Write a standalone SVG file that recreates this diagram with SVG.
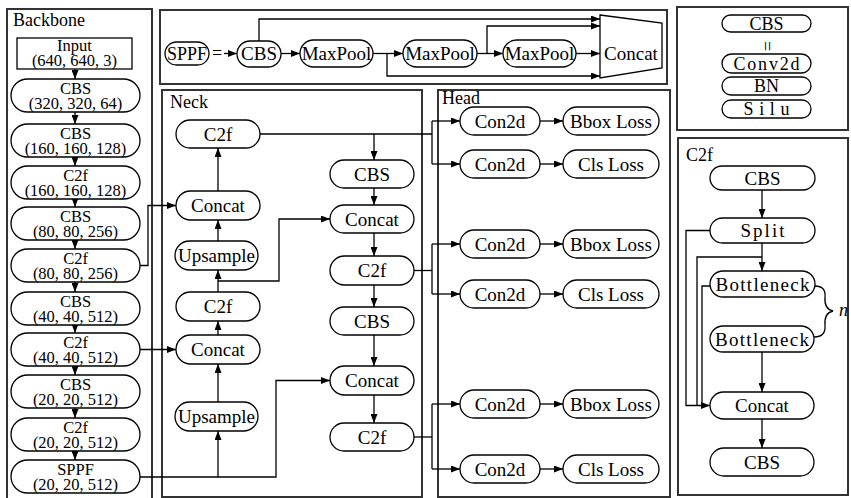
<svg xmlns="http://www.w3.org/2000/svg" width="851" height="498" viewBox="0 0 851 498" font-family="Liberation Serif, Times New Roman, serif">
<style>
.panel{fill:none;stroke:#333;stroke-width:2}
.box{fill:#fff;stroke:#000;stroke-width:1.3}
.ln{fill:none;stroke:#000;stroke-width:1.3}
.ar{fill:none;stroke:#000;stroke-width:1.3;marker-end:url(#ah)}
text{font-family:'Liberation Serif','Times New Roman',Times,serif;fill:#000}
.t{font-size:19px;text-anchor:middle}
.b{font-size:16.5px;text-anchor:middle}
.g{font-size:18px;text-anchor:middle}
.lab{font-size:18px}
</style>
<defs>
<marker id="ah" viewBox="0 0 9 7" refX="9" refY="3.5" markerWidth="9" markerHeight="7" markerUnits="userSpaceOnUse" orient="auto">
<path d="M0,0 L9,3.5 L0,7 z" fill="#000"/>
</marker>
</defs>
<rect width="851" height="498" fill="#fff"/>

<g id="panels">
<rect class="panel" x="7" y="9" width="145" height="495"/>
<rect class="panel" x="160" y="10" width="507" height="74"/>
<rect class="panel" x="677" y="7" width="171" height="123"/>
<rect class="panel" x="162" y="90" width="260" height="407"/>
<rect class="panel" x="438" y="90" width="232" height="407"/>
<rect class="panel" x="678" y="138" width="170" height="357"/>
<text class="lab" x="13" y="26" font-size="19">Backbone</text>
<text class="lab" x="170" y="108">Neck</text>
<text class="lab" x="442" y="104">Head</text>
<text class="lab" x="686" y="161">C2f</text>
</g>

<g id="connectors">
<path class="ar" d="M75,69 V79"/>
<path class="ar" d="M75,112 V124"/>
<path class="ar" d="M75,157 V166"/>
<path class="ar" d="M75,199 V207"/>
<path class="ar" d="M75,240 V249"/>
<path class="ar" d="M75,282 V292"/>
<path class="ar" d="M75,325 V333"/>
<path class="ar" d="M75,366 V375"/>
<path class="ar" d="M75,408 V418"/>
<path class="ar" d="M75,451 V460"/>
<path class="ar" d="M224,53.5 H237"/>
<path class="ar" d="M281,53.5 H300"/>
<path class="ar" d="M373,53.5 H403"/>
<path class="ar" d="M387,53.5 V76 H600"/>
<path class="ar" d="M477,53.5 H503"/>
<path class="ar" d="M487,53.5 V26 H600"/>
<path class="ar" d="M576,53.5 H600"/>
<path class="ar" d="M259,41 V19 H600"/>
<path class="ar" d="M140,265.5 H148 V205.5 H176"/>
<path class="ar" d="M140,349.5 H176"/>
<path class="ar" d="M140,477 H276 V380.5 H330"/>
<path class="ar" d="M218,477 V431"/>
<path class="ar" d="M218,402 V364"/>
<path class="ar" d="M218,335 V321"/>
<path class="ar" d="M218,292 V270"/>
<path class="ar" d="M218,281 H279 V219 H330"/>
<path class="ar" d="M218,241 V220"/>
<path class="ar" d="M218,191 V148"/>
<path class="ln" d="M260,134 H432"/>
<path class="ar" d="M374,134 V160"/>
<path class="ar" d="M374,188 V205"/>
<path class="ar" d="M374,233 V256"/>
<path class="ar" d="M374,285 V307"/>
<path class="ar" d="M374,335 V366"/>
<path class="ar" d="M374,395 V423"/>
<path class="ln" d="M414,270.5 H432"/>
<path class="ln" d="M414,437 H432"/>
<path class="ln" d="M432,121 V164"/>
<path class="ln" d="M432,244 V294"/>
<path class="ln" d="M432,404 V469"/>
<path class="ar" d="M432,121 H460"/>
<path class="ar" d="M432,164 H460"/>
<path class="ar" d="M432,244 H460"/>
<path class="ar" d="M432,294 H460"/>
<path class="ar" d="M432,404 H460"/>
<path class="ar" d="M432,469 H460"/>
<path class="ar" d="M540,121 H563"/>
<path class="ar" d="M540,164 H563"/>
<path class="ar" d="M540,244 H563"/>
<path class="ar" d="M540,294 H563"/>
<path class="ar" d="M540,404 H563"/>
<path class="ar" d="M540,469 H563"/>
<path class="ar" d="M762,190 V218"/>
<path class="ar" d="M762,243 V271"/>
<path class="ln" d="M762,257 H697 V405.5"/>
<path class="ln" d="M710,286 H702 V405.5"/>
<path class="ar" d="M710,230.5 H686 V405.5 H710"/>
<path class="ar" d="M762,352 V392"/>
<path class="ar" d="M762,419 V448"/>
<path class="ln" d="M815,286 Q826,286 825,297 Q824,309 833,311 Q824,313 825,325 Q826,337 814,337"/>
</g>

<g id="input"><rect class="box" x="17" y="38" width="115" height="31"/><text class="b" x="74.5" y="51">Input</text><text class="b" x="74.5" y="65.5">(640, 640, 3)</text></g>
<g id="bb-cbs1"><rect class="box" x="11" y="79" width="129" height="33" rx="16.5"/><text class="b" x="75.5" y="94">CBS</text><text class="b" x="75.5" y="108.5">(320, 320, 64)</text></g>
<g id="bb-cbs2"><rect class="box" x="11" y="124" width="129" height="33" rx="16.5"/><text class="b" x="75.5" y="139">CBS</text><text class="b" x="75.5" y="153.5">(160, 160, 128)</text></g>
<g id="bb-c2f1"><rect class="box" x="11" y="166" width="129" height="33" rx="16.5"/><text class="b" x="75.5" y="181">C2f</text><text class="b" x="75.5" y="195.5">(160, 160, 128)</text></g>
<g id="bb-cbs3"><rect class="box" x="11" y="207" width="129" height="33" rx="16.5"/><text class="b" x="75.5" y="222">CBS</text><text class="b" x="75.5" y="236.5">(80, 80, 256)</text></g>
<g id="bb-c2f2"><rect class="box" x="11" y="249" width="129" height="33" rx="16.5"/><text class="b" x="75.5" y="264">C2f</text><text class="b" x="75.5" y="278.5">(80, 80, 256)</text></g>
<g id="bb-cbs4"><rect class="box" x="11" y="292" width="129" height="33" rx="16.5"/><text class="b" x="75.5" y="307">CBS</text><text class="b" x="75.5" y="321.5">(40, 40, 512)</text></g>
<g id="bb-c2f3"><rect class="box" x="11" y="333" width="129" height="33" rx="16.5"/><text class="b" x="75.5" y="348">C2f</text><text class="b" x="75.5" y="362.5">(40, 40, 512)</text></g>
<g id="bb-cbs5"><rect class="box" x="11" y="375" width="129" height="33" rx="16.5"/><text class="b" x="75.5" y="390">CBS</text><text class="b" x="75.5" y="404.5">(20, 20, 512)</text></g>
<g id="bb-c2f4"><rect class="box" x="11" y="418" width="129" height="33" rx="16.5"/><text class="b" x="75.5" y="433">C2f</text><text class="b" x="75.5" y="447.5">(20, 20, 512)</text></g>
<g id="bb-sppf"><rect class="box" x="11" y="460" width="129" height="33" rx="16.5"/><text class="b" x="75.5" y="475">SPPF</text><text class="b" x="75.5" y="489.5">(20, 20, 512)</text></g>

<g id="sppf-name"><rect class="box" x="165" y="42" width="44" height="23" rx="11.5"/><text class="g" x="187" y="60">SPPF</text><text class="g" x="217" y="59">=</text></g>
<g id="sppf-cbs"><rect class="box" x="237" y="41" width="44" height="26" rx="13"/><text class="t" x="259" y="60">CBS</text></g>
<g id="sppf-mp1"><rect class="box" x="300" y="40" width="73" height="27" rx="13.5"/><text class="t" x="336.5" y="60">MaxPool</text></g>
<g id="sppf-mp2"><rect class="box" x="403" y="40" width="74" height="27" rx="13.5"/><text class="t" x="440" y="60">MaxPool</text></g>
<g id="sppf-mp3"><rect class="box" x="503" y="40" width="73" height="27" rx="13.5"/><text class="t" x="539.5" y="60">MaxPool</text></g>
<g id="sppf-concat"><polygon class="box" points="600,15 662,23 662,68 600,78"/><text class="t" x="631" y="60">Concat</text></g>

<g id="lg-cbs"><rect class="box" x="722" y="15" width="89" height="17" rx="8.5"/><text class="g" x="766.5" y="29.5">CBS</text></g>
<g id="lg-eq"><text class="g" x="0" y="0" transform="translate(761,46) rotate(90)">=</text></g>
<g id="lg-conv"><rect class="box" x="722" y="54" width="89" height="19" rx="9.5"/><text class="g" x="766.5" y="69.5" textLength="66" lengthAdjust="spacing">Conv2d</text></g>
<g id="lg-bn"><rect class="box" x="722" y="77" width="89" height="18" rx="9"/><text class="g" x="766.5" y="92">BN</text></g>
<g id="lg-silu"><rect class="box" x="722" y="100" width="89" height="18" rx="9"/><text class="g" x="766.5" y="115" textLength="46" lengthAdjust="spacing">Silu</text></g>

<g id="n-c2f-top"><rect class="box" x="176" y="120" width="84" height="28" rx="14"/><text class="t" x="218" y="140.5">C2f</text></g>
<g id="n-concat-l1"><rect class="box" x="176" y="191" width="84" height="29" rx="14.5"/><text class="t" x="218" y="212">Concat</text></g>
<g id="n-up-1"><rect class="box" x="175" y="241" width="83" height="29" rx="14.5"/><text class="t" x="216.5" y="262">Upsample</text></g>
<g id="n-c2f-l2"><rect class="box" x="176" y="292" width="84" height="29" rx="14.5"/><text class="t" x="218" y="313">C2f</text></g>
<g id="n-concat-l2"><rect class="box" x="176" y="335" width="84" height="29" rx="14.5"/><text class="t" x="218" y="356">Concat</text></g>
<g id="n-up-2"><rect class="box" x="175" y="402" width="83" height="29" rx="14.5"/><text class="t" x="216.5" y="423">Upsample</text></g>
<g id="n-cbs-r1"><rect class="box" x="330" y="160" width="84" height="28" rx="14"/><text class="t" x="372" y="180.5">CBS</text></g>
<g id="n-concat-r1"><rect class="box" x="330" y="205" width="84" height="28" rx="14"/><text class="t" x="372" y="225.5">Concat</text></g>
<g id="n-c2f-r1"><rect class="box" x="330" y="256" width="84" height="29" rx="14.5"/><text class="t" x="372" y="277">C2f</text></g>
<g id="n-cbs-r2"><rect class="box" x="330" y="307" width="84" height="28" rx="14"/><text class="t" x="372" y="327.5">CBS</text></g>
<g id="n-concat-r2"><rect class="box" x="330" y="366" width="84" height="29" rx="14.5"/><text class="t" x="372" y="387">Concat</text></g>
<g id="n-c2f-r2"><rect class="box" x="330" y="423" width="84" height="28" rx="14"/><text class="t" x="372" y="443.5">C2f</text></g>

<g id="h-conv1"><rect class="box" x="460" y="107" width="80" height="28" rx="14"/><text class="t" x="500" y="127.5">Con2d</text></g>
<g id="h-bbox1"><rect class="box" x="563" y="107" width="96" height="28" rx="14"/><text class="t" x="611" y="127.5">Bbox Loss</text></g>
<g id="h-conv2"><rect class="box" x="460" y="150" width="80" height="28" rx="14"/><text class="t" x="500" y="170.5">Con2d</text></g>
<g id="h-cls1"><rect class="box" x="563" y="150" width="96" height="28" rx="14"/><text class="t" x="611" y="170.5">Cls Loss</text></g>
<g id="h-conv3"><rect class="box" x="460" y="230" width="80" height="28" rx="14"/><text class="t" x="500" y="250.5">Con2d</text></g>
<g id="h-bbox2"><rect class="box" x="563" y="230" width="96" height="28" rx="14"/><text class="t" x="611" y="250.5">Bbox Loss</text></g>
<g id="h-conv4"><rect class="box" x="460" y="280" width="80" height="28" rx="14"/><text class="t" x="500" y="300.5">Con2d</text></g>
<g id="h-cls2"><rect class="box" x="563" y="280" width="96" height="28" rx="14"/><text class="t" x="611" y="300.5">Cls Loss</text></g>
<g id="h-conv5"><rect class="box" x="460" y="390" width="80" height="28" rx="14"/><text class="t" x="500" y="410.5">Con2d</text></g>
<g id="h-bbox3"><rect class="box" x="563" y="390" width="96" height="28" rx="14"/><text class="t" x="611" y="410.5">Bbox Loss</text></g>
<g id="h-conv6"><rect class="box" x="460" y="455" width="80" height="28" rx="14"/><text class="t" x="500" y="475.5">Con2d</text></g>
<g id="h-cls3"><rect class="box" x="563" y="455" width="96" height="28" rx="14"/><text class="t" x="611" y="475.5">Cls Loss</text></g>

<g id="c-cbs1"><rect class="box" x="710" y="166" width="105" height="24" rx="12"/><text class="t" x="762.5" y="184.5">CBS</text></g>
<g id="c-split"><rect class="box" x="710" y="218" width="105" height="25" rx="12.5"/><text class="t" x="762.5" y="237" textLength="44" lengthAdjust="spacing">Split</text></g>
<g id="c-bn1"><rect class="box" x="710" y="271" width="105" height="26" rx="13"/><text class="t" x="762.5" y="290.5" textLength="94" lengthAdjust="spacing">Bottleneck</text></g>
<g id="c-bn2"><rect class="box" x="710" y="326" width="104" height="26" rx="13"/><text class="t" x="762" y="345.5" textLength="94" lengthAdjust="spacing">Bottleneck</text></g>
<g id="c-concat"><rect class="box" x="710" y="392" width="104" height="27" rx="13.5"/><text class="t" x="762" y="412">Concat</text></g>
<g id="c-cbs2"><rect class="box" x="710" y="448" width="104" height="28" rx="14"/><text class="t" x="762" y="468.5">CBS</text></g>
<g id="c-n"><text x="839" y="316" font-size="18" font-style="italic">n</text></g>
</svg>
